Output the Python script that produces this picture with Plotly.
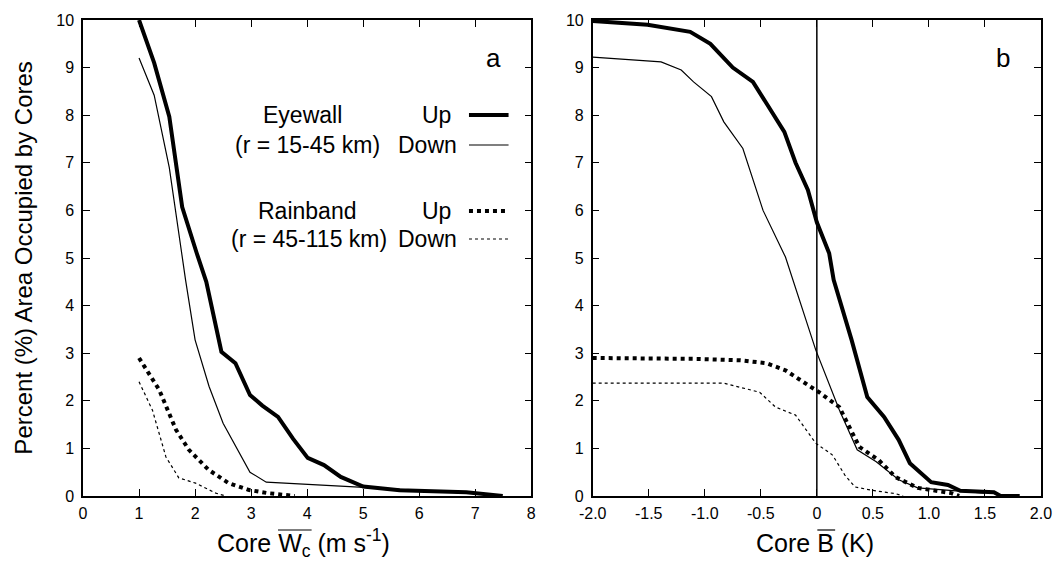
import plotly.graph_objects as go

# ---------------- data ----------------
# Panel a: Core W_c (m s-1)
a_eye_up_x = [1.0, 1.27, 1.54, 1.77, 2.03, 2.2, 2.47, 2.72, 2.98, 3.2, 3.48, 3.75, 4.01, 4.3, 4.6, 5.0, 5.65, 6.84, 7.49]
a_eye_up_y = [10.0, 9.1, 7.97, 6.07, 5.1, 4.5, 3.03, 2.79, 2.12, 1.9, 1.66, 1.2, 0.8, 0.65, 0.4, 0.2, 0.12, 0.08, 0.0]
a_eye_dn_x = [1.0, 1.27, 1.54, 1.83, 2.0, 2.25, 2.5, 2.98, 3.27, 4.95, 6.0, 7.0]
a_eye_dn_y = [9.2, 8.42, 6.9, 4.54, 3.28, 2.3, 1.53, 0.5, 0.29, 0.19, 0.12, 0.05]
a_rain_up_x = [1.0, 1.36, 1.66, 1.89, 2.24, 2.6, 2.95, 3.3, 3.78]
a_rain_up_y = [2.9, 2.23, 1.39, 0.97, 0.55, 0.27, 0.13, 0.06, 0.0]
a_rain_dn_x = [1.0, 1.24, 1.48, 1.71, 2.01, 2.37, 2.55]
a_rain_dn_y = [2.4, 1.8, 0.82, 0.38, 0.27, 0.06, 0.0]

# Panel b: Core B (K)
b_eye_up_x = [-2.0, -1.51, -1.13, -0.95, -0.75, -0.57, -0.45, -0.29, -0.19, -0.08, 0.0, 0.11, 0.15, 0.31, 0.45,
              0.6, 0.73, 0.83, 1.02, 1.17, 1.28, 1.58, 1.64, 1.81]
b_eye_up_y = [9.98, 9.9, 9.75, 9.5, 9.0, 8.7, 8.25, 7.65, 7.0, 6.43, 5.75, 5.1, 4.54, 3.28, 2.08,
              1.66, 1.18, 0.69, 0.29, 0.23, 0.11, 0.08, 0.0, 0.0]
b_eye_dn_x = [-2.0, -1.39, -1.21, -1.1, -0.94, -0.83, -0.66, -0.48, -0.28, -0.15, -0.01, 0.2, 0.36, 0.53,
              0.73, 0.9, 1.2, 1.5]
b_eye_dn_y = [9.22, 9.12, 8.95, 8.7, 8.39, 7.86, 7.3, 6.0, 5.02, 4.1, 3.07, 1.81, 0.97, 0.72,
              0.34, 0.17, 0.12, 0.06]
b_rain_up_x = [-2.0, -1.07, -0.68, -0.45, -0.28, -0.1, 0.02, 0.2, 0.38, 0.55, 0.7, 0.9, 1.2, 1.27]
b_rain_up_y = [2.9, 2.88, 2.85, 2.79, 2.64, 2.37, 2.18, 1.87, 1.03, 0.76, 0.4, 0.17, 0.06, 0.0]
b_rain_dn_x = [-2.0, -0.83, -0.51, -0.37, -0.19, -0.01, 0.14, 0.25, 0.34, 0.49, 0.7, 0.77]
b_rain_dn_y = [2.37, 2.37, 2.18, 1.87, 1.7, 1.11, 0.86, 0.44, 0.19, 0.12, 0.05, 0.0]

a_ticks = [0, 1, 2, 3, 4, 5, 6, 7, 8]
b_ticks = [-2.0, -1.5, -1.0, -0.5, 0.0, 0.5, 1.0, 1.5, 2.0]
b_ticktext = ["-2.0", "-1.5", "-1.0", "-0.5", "0", "0.5", "1.0", "1.5", "2.0"]
y_ticks = list(range(0, 11))

FONT = "Liberation Sans, Arial, sans-serif"
W, H = 1064, 561
ML, MR, MT, MB = 83, 13, 20, 65
PW, PH = W - ML - MR, H - MT - MB


def px(x):
    return (x - ML) / PW


def py(y):
    return (H - MB - y) / PH


fig = go.Figure()

styles = {
    "eye_up": dict(color="black", width=4),
    "eye_dn": dict(color="black", width=1.2),
    "rain_up": dict(color="black", width=4, dash="dot"),
    "rain_dn": dict(color="black", width=1.2, dash="dot"),
}

series_a = [(a_eye_up_x, a_eye_up_y, "eye_up"), (a_eye_dn_x, a_eye_dn_y, "eye_dn"),
            (a_rain_up_x, a_rain_up_y, "rain_up"), (a_rain_dn_x, a_rain_dn_y, "rain_dn")]
series_b = [(b_eye_up_x, b_eye_up_y, "eye_up"), (b_eye_dn_x, b_eye_dn_y, "eye_dn"),
            (b_rain_up_x, b_rain_up_y, "rain_up"), (b_rain_dn_x, b_rain_dn_y, "rain_dn")]

for xs, ys, k in series_a:
    fig.add_trace(go.Scatter(x=xs, y=ys, mode="lines", line=styles[k], xaxis="x", yaxis="y",
                             showlegend=False, hoverinfo="skip"))
for xs, ys, k in series_b:
    fig.add_trace(go.Scatter(x=xs, y=ys, mode="lines", line=styles[k], xaxis="x2", yaxis="y2",
                             showlegend=False, hoverinfo="skip"))

ax_common = dict(showgrid=False, zeroline=False, showline=True, linecolor="black", linewidth=1.5,
                 mirror="ticks", ticks="inside", ticklen=7, tickwidth=1.2, tickcolor="black",
                 tickfont=dict(family=FONT, size=16, color="black"))

dom_a = [0, px(536)]
dom_b = [px(598), 1]

fig.update_layout(
    width=W, height=H,
    margin=dict(l=ML, r=MR, t=MT, b=MB),
    plot_bgcolor="white", paper_bgcolor="white",
    font=dict(family=FONT, color="black"),
    xaxis=dict(domain=dom_a, range=[0, 8], tickvals=a_ticks, anchor="y", ticklabelstandoff=2, **ax_common),
    yaxis=dict(domain=[0, 1], range=[0, 10], tickvals=y_ticks, anchor="x", ticklabelstandoff=4, **ax_common),
    xaxis2=dict(domain=dom_b, range=[-2, 2], tickvals=b_ticks, ticktext=b_ticktext, anchor="y2",
                ticklabelstandoff=2, **ax_common),
    yaxis2=dict(domain=[0, 1], range=[0, 10], tickvals=y_ticks, anchor="x2", ticklabelstandoff=4, **ax_common),
)

# vertical zero line in panel b
fig.add_shape(type="line", xref="x2", yref="y2", x0=0, x1=0, y0=0, y1=10,
              line=dict(color="black", width=1.5))

ann = []
# axis titles
ann.append(dict(text="Core W<sub>c</sub> (m s<sup>-1</sup>)", x=px(306), y=py(543), xref="paper", yref="paper",
                showarrow=False, font=dict(size=25), xanchor="center", yanchor="middle"))
ann.append(dict(text="Core B (K)", x=px(823), y=py(543), xref="paper", yref="paper",
                showarrow=False, font=dict(size=25), xanchor="center", yanchor="middle"))
ann.append(dict(text="Percent (%) Area Occupied by Cores", x=px(22), y=py(258), xref="paper", yref="paper",
                showarrow=False, font=dict(size=24), textangle=-90, xanchor="center", yanchor="middle"))
# panel letters
ann.append(dict(text="a", x=px(498), y=py(58), xref="paper", yref="paper", showarrow=False,
                font=dict(size=26), xanchor="center", yanchor="middle"))
ann.append(dict(text="b", x=px(1013), y=py(58), xref="paper", yref="paper", showarrow=False,
                font=dict(size=26), xanchor="center", yanchor="middle"))
# legend texts
leg_rows = [("Eyewall", 305, "Up", 457, 115), ("(r = 15-45 km)", 310, "Down", 463, 145),
            ("Rainband", 309, "Up", 457, 211), ("(r = 45-115 km)", 311, "Down", 463, 239)]
for left, lx, right, rx, yy in leg_rows:
    ann.append(dict(text=left, x=px(lx), y=py(yy), xref="paper", yref="paper", showarrow=False,
                    font=dict(size=23), xanchor="center", yanchor="middle"))
    ann.append(dict(text=right, x=px(rx), y=py(yy), xref="paper", yref="paper", showarrow=False,
                    font=dict(size=23), xanchor="right", yanchor="middle"))
fig.update_layout(annotations=ann)

# legend samples
for key, yy in [("eye_up", 115), ("eye_dn", 145), ("rain_up", 211), ("rain_dn", 239)]:
    fig.add_shape(type="line", xref="paper", yref="paper", x0=px(473), x1=px(513), y0=py(yy), y1=py(yy),
                  line=styles[key])

# overlines on W_c and B
fig.add_shape(type="line", xref="paper", yref="paper", x0=px(280), x1=px(314), y0=py(530), y1=py(530),
              line=dict(color="black", width=1.2))
fig.add_shape(type="line", xref="paper", yref="paper", x0=px(825), x1=px(843), y0=py(530), y1=py(530),
              line=dict(color="black", width=1.2))

fig.write_html("out.html")
